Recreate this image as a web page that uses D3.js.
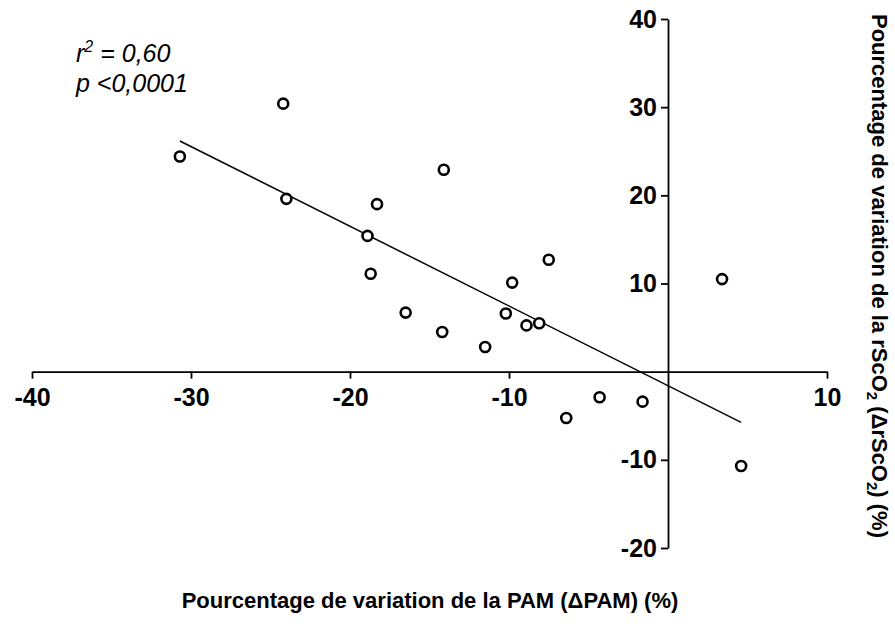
<!DOCTYPE html>
<html><head><meta charset="utf-8">
<script src="https://cdn.jsdelivr.net/npm/d3@7"></script>
<style>body{margin:0;background:#fff} svg{display:block}</style>
</head><body><svg id="c" width="895" height="632"></svg>
<script>
// Data
const deltaPAM   = [-30.7, -24.2, -24.0, -14.1, -18.3, -18.9, -18.7, -16.5, -14.2, -7.5, -9.8, -10.2, -8.9, -8.1, -11.5, -4.3, -6.4, -1.6, 4.6, 3.4];
const deltaRSCO2 = [ 24.4,  30.4,  19.6,  22.9,  19.0,  15.4,  11.1,   6.7,   4.5, 12.7, 10.1,   6.6,  5.25, 5.5,   2.8, -2.9, -5.25, -3.4, -10.7, 10.5];
const xTicks = [-40, -30, -20, -10, 10];
const yTicks = [-20, -10, 10, 20, 30, 40];
const xDomain = [-40, 10];
const yDomain = [-20, 40];
const fitSlope = -0.904;
const fitIntercept = -1.59;
const statR2 = "0,60";
const statP = "<0,0001";
const xLabel = "Pourcentage de variation de la PAM (\u0394PAM) (%)";

const svg = d3.select("#c");
const FONT = "'Liberation Sans', Arial, Helvetica, sans-serif";

const x = d3.scaleLinear().domain(xDomain).range([32, 827]);
const y = d3.scaleLinear().domain(yDomain).range([548, 19]);

// X axis
const gx = svg.append("g")
  .attr("transform", `translate(0,${y(0)})`)
  .call(d3.axisBottom(x).tickValues(xTicks).tickSize(7).tickSizeOuter(0).tickPadding(10).tickFormat(d3.format("d")));
// Y axis
const gy = svg.append("g")
  .attr("transform", `translate(${x(0)},0)`)
  .call(d3.axisLeft(y).tickValues(yTicks).tickSize(7).tickSizeOuter(0).tickPadding(4).tickFormat(d3.format("d")));

[gx, gy].forEach(g => {
  g.select(".domain").attr("stroke", "#000").attr("stroke-width", 1.8);
  g.selectAll(".tick line").attr("stroke", "#000").attr("stroke-width", 1.8);
  g.selectAll(".tick text")
    .attr("fill", "#000")
    .style("font-family", FONT)
    .style("font-weight", "bold")
    .style("font-size", "25px")
    .text(d => d < 0 ? "-" + Math.abs(d) : String(d));
});

// Regression line over data range
const xMin = d3.min(deltaPAM), xMax = d3.max(deltaPAM);
svg.append("line")
  .attr("x1", x(xMin)).attr("y1", y(fitSlope * xMin + fitIntercept))
  .attr("x2", x(xMax)).attr("y2", y(fitSlope * xMax + fitIntercept))
  .attr("stroke", "#000").attr("stroke-width", 1.5);

// Points
svg.append("g").selectAll("circle")
  .data(deltaPAM.map((v, i) => [v, deltaRSCO2[i]]))
  .join("circle")
  .attr("cx", d => x(d[0])).attr("cy", d => y(d[1]))
  .attr("r", 5)
  .attr("fill", "#fff").attr("stroke", "#000").attr("stroke-width", 2.6);

// Stats annotation
const st = svg.append("text")
  .attr("x", 76).attr("y", 62)
  .style("font-family", FONT).style("font-style", "italic").style("font-size", "25px").attr("fill", "#000");
st.append("tspan").text("r");
st.append("tspan").attr("dy", -10).style("font-size", "16px").text("2");
st.append("tspan").attr("dy", 10).text(" = " + statR2);
svg.append("text")
  .attr("x", 76).attr("y", 92)
  .style("font-family", FONT).style("font-style", "italic").style("font-size", "25px").attr("fill", "#000")
  .text("p " + statP);

// X axis label
svg.append("text")
  .attr("x", 430).attr("y", 608)
  .attr("text-anchor", "middle")
  .style("font-family", FONT).style("font-weight", "bold").style("font-size", "22px").attr("fill", "#000")
  .text(xLabel);

// Y axis label (right side, reading top to bottom)
const yl = svg.append("text")
  .attr("transform", "translate(872,14) rotate(90)")
  .attr("text-anchor", "start")
  .style("font-family", FONT).style("font-weight", "bold").style("font-size", "22px").attr("fill", "#000");
yl.append("tspan").text("Pourcentage de variation de la rScO");
yl.append("tspan").attr("dy", 5).style("font-size", "15px").text("2");
yl.append("tspan").attr("dy", -5).text(" (\u0394rScO");
yl.append("tspan").attr("dy", 5).style("font-size", "15px").text("2");
yl.append("tspan").attr("dy", -5).text(") (%)");
</script>
</body></html>
